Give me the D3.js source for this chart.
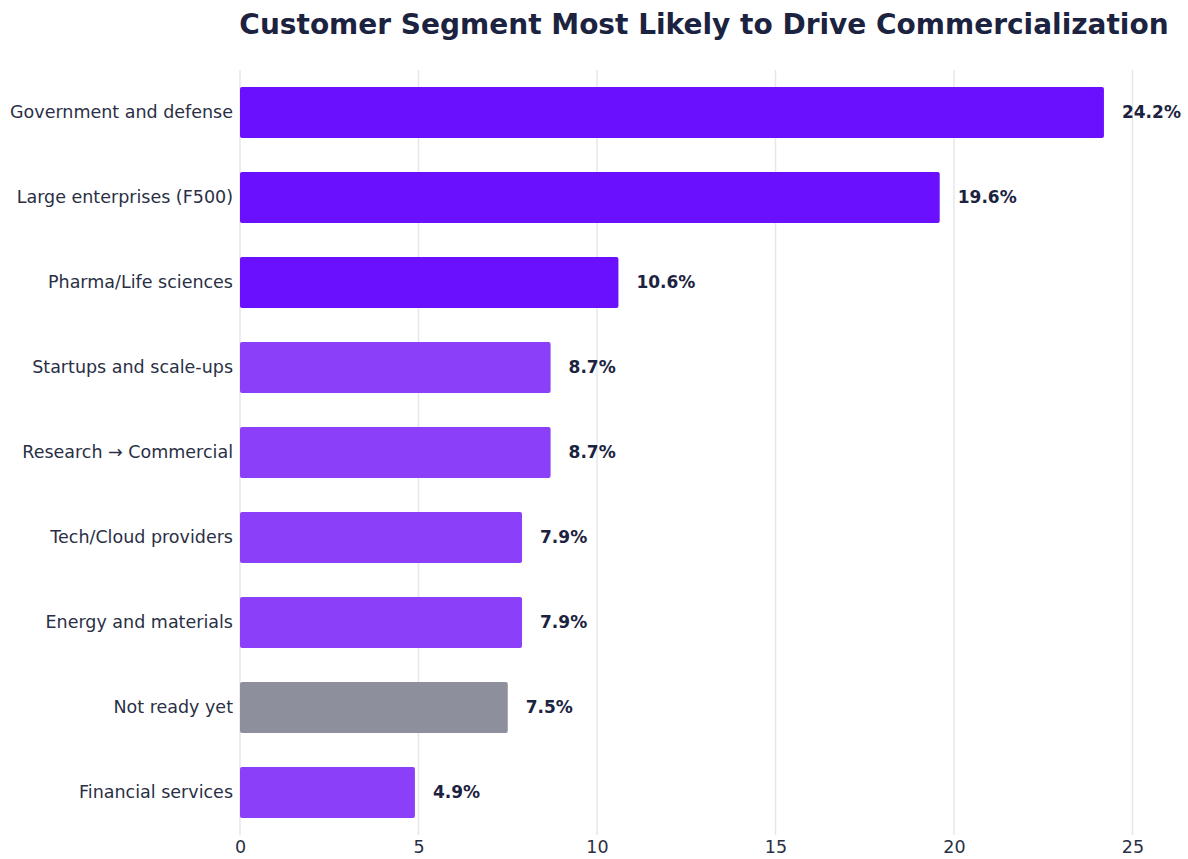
<!DOCTYPE html>
<html>
<head>
<meta charset="utf-8">
<script src="https://cdn.jsdelivr.net/npm/d3@7"></script>
<style>
  html, body { margin: 0; padding: 0; background: #ffffff; }
  svg { display: block; font-family: "DejaVu Sans", sans-serif; }
</style>
</head>
<body>
<svg id="chart" width="1188" height="859"></svg>
<script>
// Survey results: share of respondents choosing each customer segment
const categories = [
  "Government and defense",
  "Large enterprises (F500)",
  "Pharma/Life sciences",
  "Startups and scale-ups",
  "Research \u2192 Commercial",
  "Tech/Cloud providers",
  "Energy and materials",
  "Not ready yet",
  "Financial services"
];
const values = [24.2, 19.6, 10.6, 8.7, 8.7, 7.9, 7.9, 7.5, 4.9];
const groups = ["top", "top", "top", "mid", "mid", "mid", "mid", "none", "mid"];
const tickValues = [0, 5, 10, 15, 20, 25];
const titleText = "Customer Segment Most Likely to Drive Commercialization";

const colorFor = { top: "#6a10ff", mid: "#8b3ff8", none: "#8e8f9c" };

const svg = d3.select("#chart");
const margin = { left: 240, top: 70, bottom: 835 };

const x = d3.scaleLinear().domain([0, 25]).range([margin.left, 1132.5]);
const y = d3.scaleBand().domain(categories).range([margin.top, margin.bottom])
  .paddingInner(0.4).paddingOuter(0.2);

// Title
svg.append("text")
  .attr("x", 704).attr("y", 34)
  .attr("text-anchor", "middle")
  .attr("font-size", 28).attr("font-weight", "bold")
  .attr("fill", "#1c2340")
  .text(titleText);

// Vertical gridlines
svg.append("g").selectAll("line").data(tickValues).join("line")
  .attr("x1", d => x(d)).attr("x2", d => x(d))
  .attr("y1", margin.top).attr("y2", margin.bottom)
  .attr("stroke", "#e6e7eb").attr("stroke-width", 1.5);

// X axis tick labels
const xAxis = d3.axisBottom(x).tickValues(tickValues).tickSize(0).tickPadding(6).tickFormat(d3.format("d"));
const gx = svg.append("g").attr("transform", `translate(0,${margin.bottom})`).call(xAxis);
gx.select(".domain").remove();
gx.selectAll("text").attr("font-size", 17.5).attr("fill", "#2a2f45").attr("font-family", "DejaVu Sans, sans-serif");

// Y axis category labels
const yAxis = d3.axisLeft(y).tickSize(0).tickPadding(7);
const gy = svg.append("g").attr("transform", `translate(${margin.left},0)`).call(yAxis);
gy.select(".domain").remove();
gy.selectAll("text").attr("font-size", 17.5).attr("fill", "#2a2f45").attr("font-family", "DejaVu Sans, sans-serif");

// Bars
svg.append("g").selectAll("rect").data(values).join("rect")
  .attr("x", x(0))
  .attr("y", (d, i) => y(categories[i]))
  .attr("width", d => x(d) - x(0))
  .attr("height", y.bandwidth())
  .attr("rx", 2).attr("ry", 2)
  .attr("fill", (d, i) => colorFor[groups[i]]);

// Value labels
svg.append("g").selectAll("text").data(values).join("text")
  .attr("x", d => x(d) + 18)
  .attr("y", (d, i) => y(categories[i]) + y.bandwidth() / 2)
  .attr("dy", "0.35em")
  .attr("font-size", 17).attr("font-weight", "bold")
  .attr("fill", "#1c2340")
  .text(d => d.toFixed(1) + "%");
</script>
</body>
</html>
